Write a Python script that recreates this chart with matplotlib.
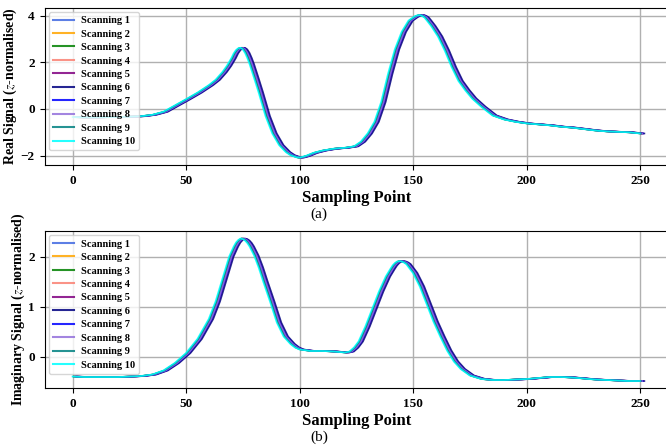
import matplotlib.pyplot as plt

plt.rcParams['font.family'] = ['Liberation Serif', 'DejaVu Serif']
plt.rcParams['mathtext.fontset'] = 'stix'

# sample positions and z-normalised signal levels (one reference scan)
sample_real = [0, 5, 10, 15, 20, 25, 30, 35, 40, 45, 50, 55, 60, 63, 66, 68, 70, 71, 72, 73, 74,
               75, 76, 77, 78, 79, 80, 82, 85, 88, 91, 94, 96, 98, 99, 100, 101, 103, 106, 110,
               115, 120, 124, 127, 130, 133, 136, 139, 142, 145, 148, 150, 151, 152, 153, 154,
               155, 156, 158, 161, 164, 167, 170, 173, 176, 180, 185, 190, 195, 200, 205, 210,
               215, 220, 225, 230, 235, 240, 245, 250]
real_signal = [-0.35, -0.36, -0.36, -0.35, -0.34, -0.33, -0.31, -0.25, -0.12, 0.15, 0.42, 0.70,
               1.02, 1.25, 1.58, 1.85, 2.18, 2.38, 2.52, 2.60, 2.62, 2.55, 2.40, 2.18, 1.92,
               1.62, 1.32, 0.70, -0.30, -1.05, -1.55, -1.85, -1.98, -2.05, -2.08, -2.08, -2.06,
               -2.00, -1.88, -1.78, -1.70, -1.66, -1.60, -1.40, -1.05, -0.55, 0.30, 1.50, 2.55,
               3.30, 3.78, 3.92, 3.98, 4.01, 4.02, 3.98, 3.92, 3.80, 3.55, 3.10, 2.50, 1.80,
               1.20, 0.80, 0.45, 0.10, -0.28, -0.45, -0.55, -0.62, -0.66, -0.70, -0.76, -0.80,
               -0.86, -0.92, -0.96, -0.98, -1.00, -1.05]

sample_imag = [0, 5, 10, 15, 20, 25, 30, 35, 40, 45, 50, 55, 60, 63, 66, 69, 71, 72, 73, 74, 75,
               76, 77, 78, 80, 82, 84, 87, 90, 93, 96, 98, 100, 105, 110, 115, 120, 122, 124,
               126, 129, 132, 135, 138, 140, 141, 142, 143, 144, 145, 146, 147, 150, 153, 156,
               159, 162, 165, 168, 171, 175, 180, 185, 190, 195, 200, 205, 210, 215, 220, 225,
               230, 235, 240, 245, 250]
imag_signal = [-0.40, -0.41, -0.41, -0.41, -0.41, -0.40, -0.39, -0.36, -0.28, -0.13, 0.07, 0.35,
               0.75, 1.10, 1.55, 2.00, 2.20, 2.28, 2.33, 2.36, 2.35, 2.32, 2.27, 2.20, 2.02,
               1.78, 1.50, 1.10, 0.68, 0.40, 0.25, 0.18, 0.14, 0.11, 0.11, 0.10, 0.08, 0.10,
               0.18, 0.30, 0.60, 0.95, 1.30, 1.60, 1.75, 1.82, 1.87, 1.90, 1.91, 1.90, 1.88,
               1.85, 1.67, 1.40, 1.05, 0.70, 0.40, 0.12, -0.10, -0.25, -0.38, -0.45, -0.47,
               -0.47, -0.46, -0.45, -0.43, -0.41, -0.41, -0.42, -0.44, -0.46, -0.47, -0.48,
               -0.49, -0.49]

# per-scan timing lag in samples
scan_lag = [0.4, 0.6, 0.3, 0.7, 1.3, 1.8, 1.0, 0.9, 0.2, -0.2]
scan_names = ['Scanning %d' % (i + 1) for i in range(10)]
colors = ['royalblue', 'orange', 'green', 'salmon', 'purple',
          'navy', 'blue', 'mediumpurple', 'teal', 'cyan']

fig = plt.figure(figsize=(6.66, 4.46), dpi=100)
ax1 = fig.add_axes([0.067, 0.630, 0.937, 0.353])
ax2 = fig.add_axes([0.067, 0.130, 0.937, 0.352])


def draw_panel(ax, xs, ys, ylabel, ylim, yticks, tag):
    for name, lag, c in zip(scan_names, scan_lag, colors):
        ax.plot([x + lag for x in xs], ys, color=c, lw=1.2, alpha=0.85, label=name)
    ax.set_xlim(-12.5, 262.5)
    ax.set_ylim(*ylim)
    ax.set_xticks([0, 50, 100, 150, 200, 250])
    ax.set_yticks(yticks)
    ax.grid(True, color='#b0b0b0', lw=1.0)
    ax.set_axisbelow(True)
    for lab in ax.get_xticklabels() + ax.get_yticklabels():
        lab.set_fontweight('bold')
        lab.set_fontsize(9.5)
    ax.set_xlabel('Sampling Point', fontsize=12, fontweight='bold', labelpad=2)
    ax.set_ylabel(ylabel, fontsize=10, fontweight='bold', labelpad=1)
    leg = ax.legend(loc='upper left', prop={'weight': 'bold', 'size': 7.5},
                    labelspacing=0.4, handlelength=2.0, handletextpad=0.7,
                    borderaxespad=0.4)
    leg.get_frame().set_alpha(0.8)
    for h in leg.get_lines():
        h.set_linewidth(1.5)
    ax.text(0.44, -0.27, tag, transform=ax.transAxes, ha='center', va='top', fontsize=11)


draw_panel(ax1, sample_real, real_signal, 'Real Signal ($\\mathbf{\\it{z}}$-normalised)',
           (-2.40, 4.34), [-2, 0, 2, 4], '(a)')
draw_panel(ax2, sample_imag, imag_signal, 'Imaginary Signal ($\\mathbf{\\it{z}}$-normalised)',
           (-0.63, 2.51), [0, 1, 2], '(b)')

fig.savefig('out.png', dpi=100)
